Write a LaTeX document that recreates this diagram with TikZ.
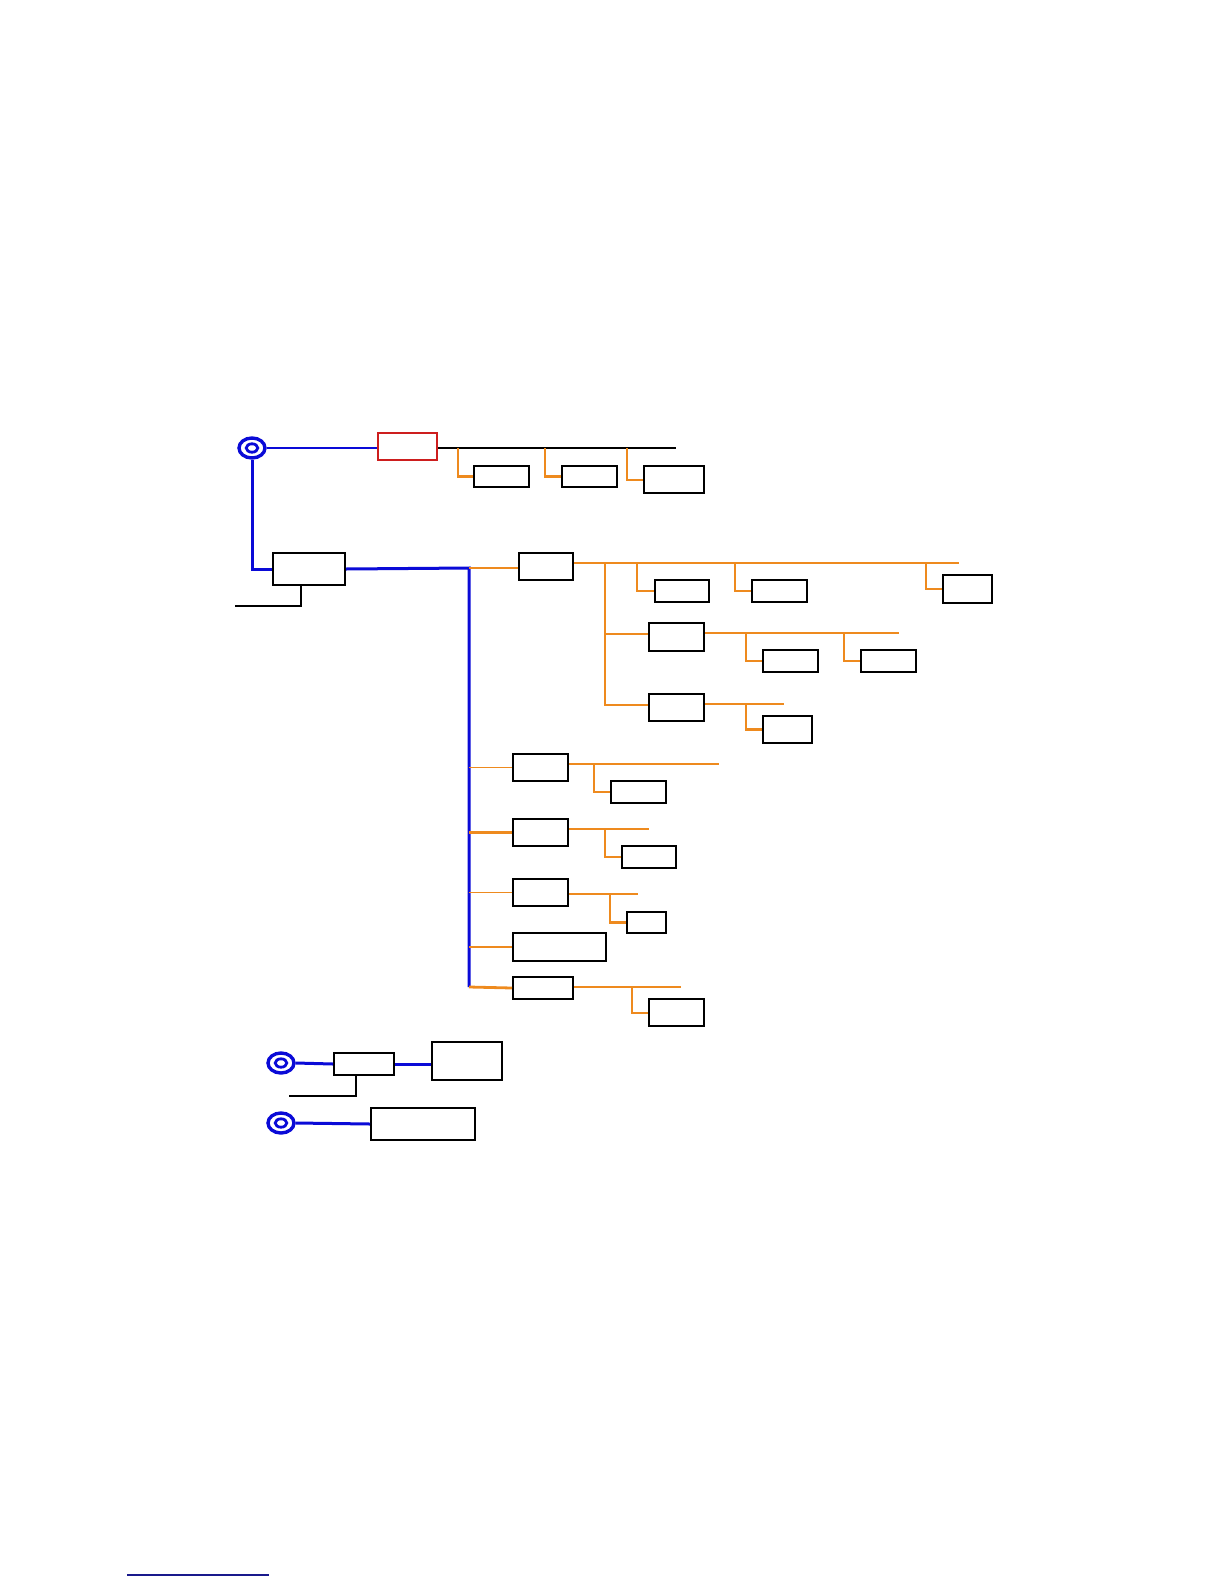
\documentclass[tikz,border=0pt]{standalone}
\usetikzlibrary{shapes.geometric}
\definecolor{bl}{RGB}{10,10,215}
\definecolor{orng}{RGB}{238,138,30}
\definecolor{rd}{RGB}{205,30,30}
\definecolor{nv}{RGB}{25,25,140}
\begin{document}
\begin{tikzpicture}[x=1pt,y=-1pt,
 box/.style={draw=black,line width=2pt,rectangle,inner sep=0pt,anchor=north west},
 ring/.style={draw=bl,line width=3.4pt,ellipse,inner sep=0pt,minimum width=26pt,minimum height=20pt},
 inring/.style={draw=bl,line width=2.8pt},
 bthick/.style={draw=bl,line width=3pt},
 bthin/.style={draw=bl,line width=1.6pt},
 othick/.style={draw=orng,line width=2.8pt},
 othin/.style={draw=orng,line width=1.6pt},
 odrop/.style={draw=orng,line width=2.2pt},
 kthin/.style={draw=black,line width=1.4pt}]
\useasboundingbox (0,0) rectangle (1224,1584);
% rings
\node[ring] (r1) at (252,448) {};
\node[ring] (r2) at (281,1063) {};
\node[ring] (r3) at (281,1123) {};
\foreach \r in {r1,r2,r3}{\draw[inring] (\r.center) ellipse [x radius=5.8pt, y radius=4.2pt];}
% boxes
\node[box,draw=rd,minimum width=59pt,minimum height=27pt] (red) at (377,432) {};
\node[box,minimum width=55pt,minimum height=21pt] (t1) at (473,465) {};
\node[box,minimum width=55pt,minimum height=21pt] (t2) at (561,465) {};
\node[box,line width=2.4pt,minimum width=60pt,minimum height=27pt] (t3) at (643,465) {};
\node[box,minimum width=72pt,minimum height=32pt] (A) at (272,552) {};
\node[box,line width=2.4pt,minimum width=54pt,minimum height=27pt] (B) at (518,552) {};
\node[box,minimum width=54pt,minimum height=22pt] (b1) at (654,579) {};
\node[box,minimum width=55pt,minimum height=22pt] (b2) at (751,579) {};
\node[box,minimum width=49pt,minimum height=28pt] (b3) at (942,574) {};
\node[box,line width=2.4pt,minimum width=55pt,minimum height=28pt] (C) at (648,622) {};
\node[box,minimum width=55pt,minimum height=22pt] (c1) at (762,649) {};
\node[box,minimum width=55pt,minimum height=22pt] (c2) at (860,649) {};
\node[box,line width=2.4pt,minimum width=55pt,minimum height=27pt] (D) at (648,693) {};
\node[box,minimum width=49pt,minimum height=27pt] (d1) at (762,715) {};
\node[box,minimum width=55pt,minimum height=27pt] (E) at (512,753) {};
\node[box,minimum width=55pt,minimum height=22pt] (e1) at (610,780) {};
\node[box,minimum width=55pt,minimum height=27pt] (F) at (512,818) {};
\node[box,minimum width=54pt,minimum height=22pt] (f1) at (621,845) {};
\node[box,minimum width=55pt,minimum height=27pt] (G) at (512,878) {};
\node[box,minimum width=39pt,minimum height=21pt] (g1) at (626,911) {};
\node[box,minimum width=93pt,minimum height=28pt] (H) at (512,932) {};
\node[box,minimum width=60pt,minimum height=22pt] (I) at (512,976) {};
\node[box,line width=2.4pt,minimum width=55pt,minimum height=27pt] (i1) at (648,998) {};
\node[box,minimum width=60pt,minimum height=22pt] (J) at (333,1052) {};
\node[box,line width=1.6pt,minimum width=70pt,minimum height=38pt] (K) at (431,1041) {};
\node[box,minimum width=104pt,minimum height=32pt] (L) at (370,1107) {};
% coordinates
\coordinate (tbus) at (676,448);
\coordinate (tb1) at (458,448);
\coordinate (tb2) at (545,448);
\coordinate (tb3) at (627,448);
\coordinate (jA) at (469,568);
\coordinate (jI) at (469,987);
\coordinate (aL) at (235,606);
\coordinate (Bend) at (959,563);
\coordinate (bb0) at (605,563);
\coordinate (bb1) at (637,563);
\coordinate (bb2) at (735,563);
\coordinate (bb3) at (926,563);
\coordinate (Cend) at (899,633);
\coordinate (cb1) at (746,633);
\coordinate (cb2) at (844,633);
\coordinate (Dend) at (784,704);
\coordinate (db1) at (746,704);
\coordinate (Eend) at (719,764);
\coordinate (eb1) at (594,764);
\coordinate (Fend) at (649,829);
\coordinate (fb1) at (605,829);
\coordinate (Gend) at (638,894);
\coordinate (gb1) at (610,894);
\coordinate (Iend) at (681,987);
\coordinate (ib1) at (632,987);
\coordinate (jL) at (289,1096);
\coordinate (ul1) at (127,1575);
\coordinate (ul2) at (269,1575);
% top branch
\draw[bthin] (r1.east) -- (r1.east -| red.west);
\draw[kthin] (tbus -| red.east) -- (tbus);
\draw[odrop] (tb1) |- (t1.west);
\draw[odrop] (tb2) |- (t2.west);
\draw[othin] (tb3) |- (t3.west);
% main blue
\draw[bthick] (r1.south) |- (A.west);
\draw[bthick] (A.east) -- (jA) -- (jI);
\draw[kthin] ([xshift=-8pt]A.south) |- (aL);
\draw[othick] (jA) -- (jA -| B.west);
% B subtree
\draw[othick] (Bend -| B.east) -- (Bend);
\draw[odrop] (bb1) |- (b1.west);
\draw[odrop] (bb2) |- (b2.west);
\draw[odrop] (bb3) |- (b3.west);
\draw[odrop] (bb0) |- ([yshift=3pt]C.west);
\draw[othin] (bb0) |- ([yshift=3pt]D.west);
\draw[othin] (Cend -| C.east) -- (Cend);
\draw[odrop] (cb1) |- (c1.west);
\draw[odrop] (cb2) |- (c2.west);
\draw[othick] (Dend -| D.east) -- (Dend);
\draw[odrop] (db1) |- (d1.west);
% E..I
\draw[othin] (jA |- E.west) -- (E.west);
\draw[othick] (Eend -| E.east) -- (Eend);
\draw[odrop] (eb1) |- (e1.west);
\draw[othick] (jA |- F.west) -- (F.west);
\draw[othick] (Fend -| F.east) -- (Fend);
\draw[odrop] (fb1) |- (f1.west);
\draw[othin] (jA |- G.west) -- (G.west);
\draw[othin] (Gend -| G.east) -- (Gend);
\draw[odrop] (gb1) |- (g1.west);
\draw[othin] (jA |- H.west) -- (H.west);
\draw[othick] (jI) -- (I.west);
\draw[othick] (Iend -| I.east) -- (Iend);
\draw[odrop] (ib1) |- (i1.west);
% lower rings
\draw[bthick] (r2.east) -- (J.west);
\draw[bthick] (J.east) -- (J.east -| K.west);
\draw[kthin] ([xshift=-8pt]J.south) |- (jL);
\draw[bthick] (r3.east) -- (L.west);
% underline
\draw[draw=nv,line width=1.5pt] (ul1) -- (ul2);
\end{tikzpicture}
\end{document}
